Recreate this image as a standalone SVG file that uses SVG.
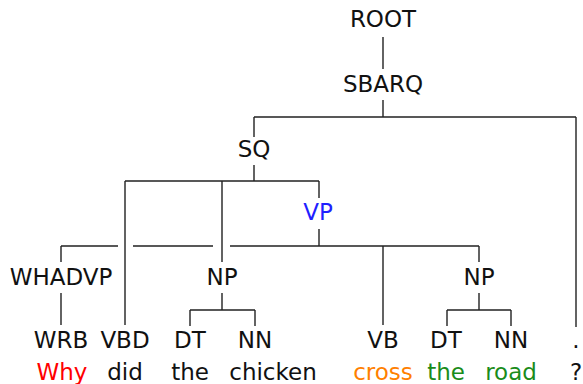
<svg xmlns="http://www.w3.org/2000/svg" width="583" height="384" viewBox="0 0 583 384">
<style>
text{font-family:"DejaVu Sans","Liberation Sans",sans-serif;font-size:23px;text-anchor:middle;fill:#111}
.e{stroke:#222;stroke-width:1.4;fill:none}
</style>
<rect width="583" height="384" fill="#fff"/>
<g id="connectors" class="e">
<path d="M383 37V69"/>
<path d="M383 100V117M254 117H576M254 117V137M576 117V327"/>
<path d="M254 165V181M125 181H319M125 181V325M222 181V262M319 181V198"/>
<path d="M319 229V246M61 246H118M133 246H213M230 246H479M61 246V262M383 246V325M479 246V262"/>
<path d="M61 293V325"/>
<path d="M222 293V310M190 310H255M190 310V326M255 310V326"/>
<path d="M479 293V310M447 310H511M447 310V326M511 310V326"/>
</g>
<g id="ROOT"><text x="383" y="27">ROOT</text></g>
<g id="SBARQ"><text x="383" y="92">SBARQ</text></g>
<g id="SQ"><text x="254" y="157">SQ</text></g>
<g id="VP"><text x="318" y="220" style="fill:#1f1fff">VP</text></g>
<g id="WHADVP"><text x="61" y="285">WHADVP</text></g>
<g id="NP1"><text x="222" y="285">NP</text></g>
<g id="NP2"><text x="479" y="285">NP</text></g>
<g id="WRB"><text x="61" y="348">WRB</text><text x="62" y="380" style="fill:#ff0000">Why</text></g>
<g id="VBD"><text x="125" y="348">VBD</text><text x="125" y="380">did</text></g>
<g id="DT1"><text x="190" y="348">DT</text><text x="190" y="380">the</text></g>
<g id="NN1"><text x="255" y="348">NN</text><text x="273" y="380">chicken</text></g>
<g id="VB"><text x="383" y="348">VB</text><text x="383" y="380" style="fill:#ff8000">cross</text></g>
<g id="DT2"><text x="446" y="348">DT</text><text x="446" y="380" style="fill:#1a8c1a">the</text></g>
<g id="NN2"><text x="511" y="348">NN</text><text x="511" y="380" style="fill:#1a8c1a">road</text></g>
<g id="PUNCT"><text x="576" y="348">.</text><text x="576" y="380">?</text></g>
</svg>
